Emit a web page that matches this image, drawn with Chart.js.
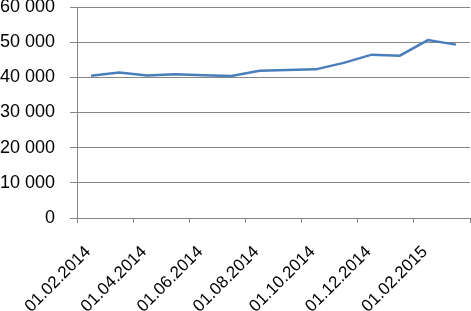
<!DOCTYPE html>
<html>
<head>
<meta charset="utf-8">
<script src="https://cdn.jsdelivr.net/npm/chart.js@4.4.1/dist/chart.umd.min.js"></script>
<style>
  html, body { margin: 0; padding: 0; background: #fff; }
  #wrap { width: 471px; height: 311px; }
</style>
</head>
<body>
<div id="wrap"><canvas id="Chart"></canvas></div>
<script>
// monthly values, Feb 2014 .. Mar 2015
const months = ['02.2014', '03.2014', '04.2014', '05.2014', '06.2014', '07.2014', '08.2014',
  '09.2014', '10.2014', '11.2014', '12.2014', '01.2015', '02.2015', '03.2015']
const values = [40480, 41400, 40500, 40850, 40600, 40400, 41900,
  42050, 42270, 44100, 46450, 46150, 50600, 49300]
const xTickLabels = ['01.02.2014', '01.04.2014', '01.06.2014', '01.08.2014',
  '01.10.2014', '01.12.2014', '01.02.2015', '']
const yTicks = [0, 10000, 20000, 30000, 40000, 50000, 60000]

const gridColor = '#868686'
const fontFamily = '"Liberation Sans", Arial, sans-serif'

// each month sits in the middle of its slot on the date axis
const points = values.map((v, i) => ({ x: i + 0.5, y: v }))

const ctx = document.getElementById('Chart')

new Chart(ctx, {
  type: 'line',
  data: {
    datasets: [{
      label: 'Series',
      data: points,
      borderColor: '#4a7ebb',
      borderWidth: 2.5,
      pointRadius: 0,
      tension: 0,
      fill: false
    }]
  },
  options: {
    responsive: true,
    maintainAspectRatio: false,
    animation: false,
    layout: { padding: { top: 7, right: 1, left: 0, bottom: 0 } },
    plugins: {
      legend: { display: false },
      tooltip: { enabled: false }
    },
    scales: {
      x: {
        type: 'linear',
        min: 0,
        max: months.length,
        afterBuildTicks: (scale) => {
          scale.ticks = xTickLabels.map((t, i) => ({ value: i * 2 }))
        },
        afterFit: (scale) => {
          scale.height = 93
          scale.paddingLeft = 0
          scale.paddingRight = 0
        },
        ticks: {
          autoSkip: false,
          minRotation: 45,
          maxRotation: 45,
          padding: 19,
          labelOffset: 11,
          color: '#000',
          font: { family: fontFamily, size: 17 },
          callback: (v) => xTickLabels[Math.round(v / 2)] || ''
        },
        grid: {
          drawOnChartArea: false,
          drawTicks: true,
          tickLength: 5,
          color: gridColor
        },
        border: { color: gridColor, width: 1 }
      },
      y: {
        min: 0,
        max: 60000,
        afterBuildTicks: (scale) => {
          scale.ticks = yTicks.map(v => ({ value: v }))
        },
        afterFit: (scale) => {
          scale.width = 77
          scale.paddingTop = 0
          scale.paddingBottom = 0
        },
        ticks: {
          padding: 15,
          color: '#000',
          font: { family: fontFamily, size: 18 },
          callback: (v) => String(v).replace(/\B(?=(\d{3})+(?!\d))/g, ' ')
        },
        grid: {
          color: gridColor,
          lineWidth: 1,
          tickLength: 7
        },
        border: { color: gridColor, width: 1 }
      }
    }
  }
})
</script>
</body>
</html>
